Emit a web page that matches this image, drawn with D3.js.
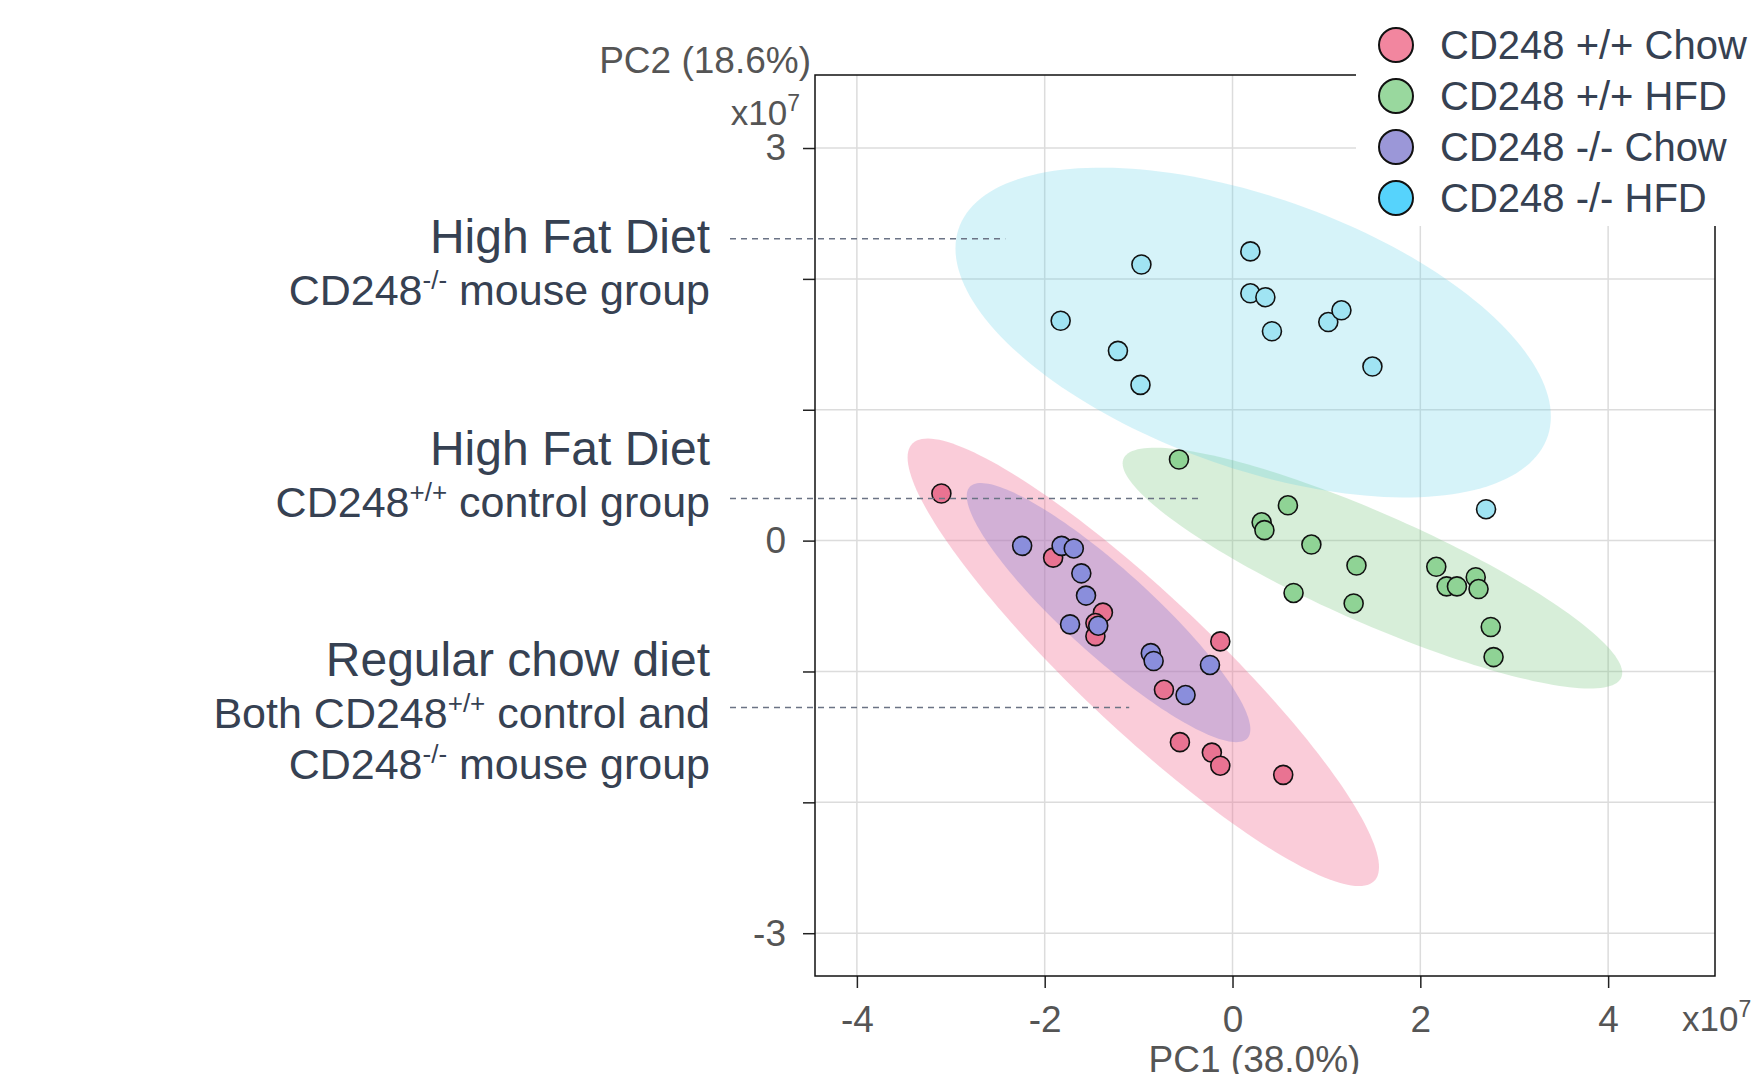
<!DOCTYPE html>
<html>
<head>
<meta charset="utf-8">
<script src="https://cdn.jsdelivr.net/npm/d3@7"></script>
<style>
  html, body { margin: 0; padding: 0; background: #fff; }
  svg { display: block; font-family: "Liberation Sans", Arial, Helvetica, sans-serif; }
</style>
</head>
<body>
<svg id="chart" width="1761" height="1074"></svg>
<script>
// PCA scores (units of 1e7), one list per group
const groups = ["CD248 +/+ Chow", "CD248 +/+ HFD", "CD248 -/- Chow", "CD248 -/- HFD"];

const wtChow = [[-3.10, 0.36], [-1.91, -0.13], [-1.38, -0.55], [-1.46, -0.63], [-1.46, -0.73],
  [-0.13, -0.77], [-0.73, -1.14], [-0.56, -1.54], [-0.22, -1.62], [-0.13, -1.72], [0.54, -1.79]];
const wtHfd = [[-0.57, 0.62], [0.59, 0.27], [0.31, 0.14], [0.34, 0.08], [0.84, -0.03], [1.32, -0.19],
  [0.65, -0.40], [1.29, -0.48], [2.17, -0.20], [2.28, -0.35], [2.39, -0.35], [2.59, -0.28],
  [2.62, -0.37], [2.75, -0.66], [2.78, -0.89]];
const koChow = [[-2.24, -0.04], [-1.82, -0.04], [-1.69, -0.06], [-1.61, -0.25], [-1.56, -0.42],
  [-1.73, -0.64], [-1.43, -0.65], [-0.87, -0.86], [-0.84, -0.92], [-0.24, -0.95], [-0.50, -1.18]];
const koHfd = [[-0.97, 2.11], [-1.83, 1.68], [-1.22, 1.45], [-0.98, 1.19], [0.19, 2.21], [0.19, 1.89],
  [0.35, 1.86], [0.42, 1.60], [1.02, 1.67], [1.16, 1.76], [1.49, 1.33], [2.70, 0.24]];

// confidence ellipses: centre, half extent along x / y, correlation
const ellipseCenters = [[-0.95, -0.93], [1.49, -0.21], [-1.32, -0.55], [0.22, 1.59]];
const ellipseExtents = [[2.51, 1.71], [2.66, 0.92], [1.51, 0.99], [3.17, 1.26]];
const ellipseRho = [-0.915, -0.87, -0.90, -0.51];

const xTicks = [-4, -2, 0, 2, 4];
const yTicks = [-3, -2, -1, 0, 1, 2, 3];
const yLabelled = [-3, 0, 3];

// side notes: text lines ([text, superscript?] pieces), y of the leader, x where it stops
const noteLines = [
  [[["High Fat Diet", 0]], [["CD248", 0], ["-/-", 1], [" mouse group", 0]]],
  [[["High Fat Diet", 0]], [["CD248", 0], ["+/+", 1], [" control group", 0]]],
  [[["Regular chow diet", 0]], [["Both CD248", 0], ["+/+", 1], [" control and", 0]],
    [["CD248", 0], ["-/-", 1], [" mouse group", 0]]]
];
const noteY = [2.306, 0.322, -1.275];
const noteEnd = [-2.42, -0.33, -1.10];

const pointFill = ["#e97392", "#8fd395", "#8a8edc", "#a0e4f3"];
const legendFill = ["#f2869f", "#99d89e", "#9b97d8", "#56d3fc"];
const ellipseFill = ["#f06d92", "#7cc882", "#8a7fd0", "#5ccfe8"];
const ellipseOpacity = [0.35, 0.3, 0.36, 0.25];

var svg = d3.select("#chart");
var plotLeft = 815, plotRight = 1715, plotTop = 75, plotBottom = 976;

var x = d3.scaleLinear().domain([-4.446, 5.138]).range([plotLeft, plotRight]);
var y = d3.scaleLinear().domain([-3.327, 3.558]).range([plotBottom, plotTop]);

var textColor = "#364152";
var axisColor = "#555";

// grid
svg.append("g")
  .selectAll("line")
  .data(xTicks)
  .enter()
  .append("line")
  .attr("x1", function (d) { return x(d); })
  .attr("x2", function (d) { return x(d); })
  .attr("y1", plotTop)
  .attr("y2", plotBottom)
  .attr("stroke", "#dcdcdc")
  .attr("stroke-width", 1.5);

svg.append("g")
  .selectAll("line")
  .data(yTicks)
  .enter()
  .append("line")
  .attr("x1", plotLeft)
  .attr("x2", plotRight)
  .attr("y1", function (d) { return y(d); })
  .attr("y2", function (d) { return y(d); })
  .attr("stroke", "#dcdcdc")
  .attr("stroke-width", 1.5);

// ellipses
var steps = d3.range(0, 2 * Math.PI, Math.PI / 90);
var ellipseLine = d3.line()
  .x(function (p) { return x(p[0]); })
  .y(function (p) { return y(p[1]); })
  .curve(d3.curveLinearClosed);

var drawOrder = [0, 2, 1, 3];
svg.append("g")
  .selectAll("path")
  .data(drawOrder)
  .enter()
  .append("path")
  .attr("d", function (i) {
    var c = ellipseCenters[i], e = ellipseExtents[i], r = ellipseRho[i];
    var s = Math.sqrt(1 - r * r);
    return ellipseLine(steps.map(function (t) {
      return [c[0] + e[0] * Math.cos(t), c[1] + e[1] * (r * Math.cos(t) + s * Math.sin(t))];
    }));
  })
  .attr("fill", function (i) { return ellipseFill[i]; })
  .attr("fill-opacity", function (i) { return ellipseOpacity[i]; });

// points
var series = [wtChow, wtHfd, koChow, koHfd];
[0, 1, 2, 3].forEach(function (i) {
  svg.append("g")
    .selectAll("circle")
    .data(series[i])
    .enter()
    .append("circle")
    .attr("cx", function (d) { return x(d[0]); })
    .attr("cy", function (d) { return y(d[1]); })
    .attr("r", 9.5)
    .attr("fill", pointFill[i])
    .attr("stroke", "#111")
    .attr("stroke-width", 1.6);
});

// axes
var xAxis = svg.append("g")
  .attr("transform", "translate(0," + plotBottom + ")")
  .call(d3.axisBottom(x).tickValues(xTicks).tickSize(12).tickSizeOuter(0).tickPadding(18)
    .tickFormat(function (d) { return String(d); }));
var yAxis = svg.append("g")
  .attr("transform", "translate(" + plotLeft + ",0)")
  .call(d3.axisLeft(y).tickValues(yTicks).tickSize(12).tickSizeOuter(0).tickPadding(17)
    .tickFormat(function (d) { return yLabelled.indexOf(d) >= 0 ? String(d) : ""; }));

[xAxis, yAxis].forEach(function (a) {
  a.select(".domain").remove();
  a.selectAll(".tick line").attr("stroke", "#222").attr("stroke-width", 1.5);
  a.selectAll(".tick text")
    .attr("font-size", 37)
    .attr("font-family", "Liberation Sans, Arial, sans-serif")
    .attr("fill", axisColor);
});

// frame
svg.append("rect")
  .attr("x", plotLeft)
  .attr("y", plotTop)
  .attr("width", plotRight - plotLeft)
  .attr("height", plotBottom - plotTop)
  .attr("fill", "none")
  .attr("stroke", "#111")
  .attr("stroke-width", 1.5);

// axis titles and multipliers
svg.append("text")
  .attr("x", 811)
  .attr("y", 73)
  .attr("text-anchor", "end")
  .attr("font-size", 37)
  .attr("fill", axisColor)
  .text("PC2 (18.6%)");

svg.append("text")
  .attr("x", (x(-4) + x(4)) / 2 + 22)
  .attr("y", 1072)
  .attr("text-anchor", "middle")
  .attr("font-size", 37)
  .attr("fill", axisColor)
  .text("PC1 (38.0%)");

function multiplier(xp, yp, anchor) {
  var t = svg.append("text")
    .attr("x", xp)
    .attr("y", yp)
    .attr("text-anchor", anchor)
    .attr("font-size", 35)
    .attr("fill", axisColor);
  t.append("tspan").text("x10");
  t.append("tspan").attr("dy", -14).attr("font-size", 23).text("7");
}
multiplier(800, 125, "end");
multiplier(1682, 1031, "start");

// legend box covers the corner of the frame
svg.append("rect")
  .attr("x", 1356)
  .attr("y", 0)
  .attr("width", 1761 - 1356)
  .attr("height", 226)
  .attr("fill", "#fff");

var legend = svg.append("g")
  .selectAll("g")
  .data(groups)
  .enter()
  .append("g")
  .attr("transform", function (d, i) { return "translate(1396," + (45 + i * 51) + ")"; });

legend.append("circle")
  .attr("r", 17)
  .attr("fill", function (d, i) { return legendFill[i]; })
  .attr("stroke", "#111")
  .attr("stroke-width", 2);

legend.append("text")
  .attr("x", 44)
  .attr("y", 14)
  .attr("font-size", 40)
  .attr("fill", textColor)
  .text(function (d) { return d; });

// side notes with dashed leaders
var noteX = 710;
var lineGap = 51.5;
noteLines.forEach(function (lines, k) {
  var ly = y(noteY[k]);
  svg.append("line")
    .attr("x1", noteX + 20)
    .attr("x2", x(noteEnd[k]))
    .attr("y1", ly)
    .attr("y2", ly)
    .attr("stroke", "#6b7385")
    .attr("stroke-width", 1.5)
    .attr("stroke-dasharray", "6,5");

  var firstBase = [253, 465, 676][k];
  lines.forEach(function (pieces, j) {
    var size = j === 0 ? 48 : 43;
    var t = svg.append("text")
      .attr("x", noteX)
      .attr("y", firstBase + j * lineGap)
      .attr("text-anchor", "end")
      .attr("font-size", size)
      .attr("fill", textColor);
    var shift = 0;
    pieces.forEach(function (p) {
      var s = t.append("tspan").text(p[0]);
      if (p[1]) {
        s.attr("font-size", 26).attr("dy", -16 - shift);
        shift = -16;
      } else {
        s.attr("dy", -shift);
        shift = 0;
      }
    });
  });
});
</script>
</body>
</html>
